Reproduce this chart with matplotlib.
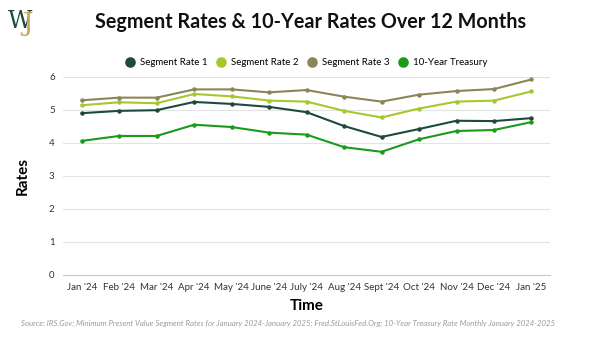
import matplotlib.pyplot as plt

plt.rcParams['font.family'] = ['Lato', 'DejaVu Sans']

months = ["Jan '24", "Feb '24", "Mar '24", "Apr '24", "May '24", "June '24", "July '24",
          "Aug '24", "Sept '24", "Oct '24", "Nov '24", "Dec '24", "Jan '25"]
seg1 = [4.90, 4.97, 4.99, 5.24, 5.18, 5.09, 4.93, 4.51, 4.18, 4.42, 4.67, 4.66, 4.75]
seg2 = [5.14, 5.23, 5.20, 5.48, 5.41, 5.28, 5.25, 4.97, 4.77, 5.04, 5.25, 5.28, 5.56]
seg3 = [5.29, 5.37, 5.37, 5.62, 5.62, 5.53, 5.60, 5.40, 5.25, 5.46, 5.57, 5.63, 5.92]
treasury = [4.06, 4.21, 4.21, 4.55, 4.48, 4.31, 4.25, 3.87, 3.73, 4.11, 4.36, 4.39, 4.63]

series = [
    ('Segment Rate 1', seg1, '#1e4a3b'),
    ('Segment Rate 2', seg2, '#a4c92c'),
    ('Segment Rate 3', seg3, '#8c8558'),
    ('10-Year Treasury', treasury, '#1c9a1c'),
]

fig = plt.figure(figsize=(6, 3.37), dpi=100)
ax = fig.add_axes([0.105, 0.184, 0.812, 0.588])

x = range(len(months))
for name, vals, col in series:
    ax.plot(x, vals, color=col, lw=1.5, marker='o', ms=2.2, label=name)

ax.set_xlim(-0.5, 12.5)
ax.set_ylim(0, 6)
ax.set_yticks(range(7))
ax.set_xticks(list(x))
ax.set_xticklabels(months)
ax.tick_params(length=0, labelsize=7, colors='#333333', pad=6)
ax.grid(axis='y', color='#e3e3e3', lw=0.8)
ax.set_axisbelow(True)
for s in ['top', 'right', 'left']:
    ax.spines[s].set_visible(False)
ax.spines['bottom'].set_color('#c8c8c8')

ax.set_xlabel('Time', fontsize=11, fontweight='bold', labelpad=5)
ax.set_ylabel('Rates', fontsize=11, fontweight='bold', labelpad=14)

leg = ax.legend(loc='lower center', bbox_to_anchor=(0.5, 1.005), ncol=4, frameon=False,
                fontsize=7, handlelength=0.8, markerscale=3, columnspacing=1.0,
                handletextpad=0.6)
for h in leg.legend_handles:
    h.set_linestyle('')

fig.text(0.517, 0.935, 'Segment Rates & 10-Year Rates Over 12 Months', ha='center', va='center',
         fontsize=14.2, fontweight='bold', color='#111111')

# logo
fig.text(0.033, 0.935, 'W', ha='center', va='center', fontsize=17, family='DejaVu Serif',
         color='#1e4a3b')
fig.text(0.045, 0.93, 'J', ha='center', va='center', fontsize=19, family='DejaVu Serif',
         color='#c9a45a')

fig.text(0.48, 0.04, 'Source: IRS.Gov; Minimum Present Value Segment Rates for January 2024-January 2025; '
         'Fred.StLouisFed.Org; 10-Year Treasury Rate Monthly January 2024-2025',
         ha='center', va='center', fontsize=5.55, style='italic', color='#9a9a9a')

fig.savefig('out.png', dpi=100)
